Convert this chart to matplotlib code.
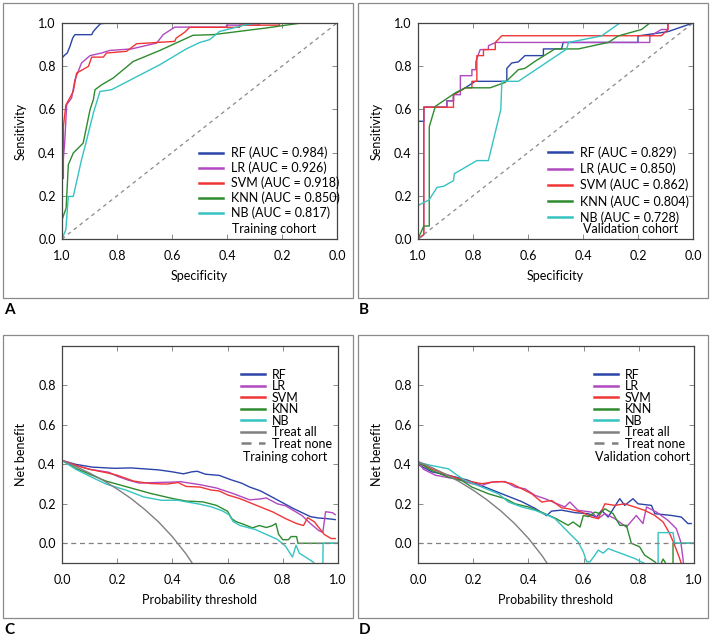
import matplotlib.pyplot as plt
from matplotlib.patches import Rectangle

plt.rcParams["font.family"] = ["Lato", "DejaVu Sans"]
plt.rcParams["font.size"] = 9.0

models = ["RF", "LR", "SVM", "KNN", "NB"]
colors = ["#2b44a8", "#b048c0", "#f03535", "#2e8b2e", "#35c3c3"]

# ---- ROC, training cohort (x = specificity) ----
auc_a = [0.984, 0.926, 0.918, 0.850, 0.817]
rf_spec_a = [1.0, 1.0, 1.0, 0.989, 0.981, 0.971, 0.961, 0.953, 0.935, 0.892, 0.886, 0.872, 0.860, 0.826, 0.0]
rf_sens_a = [0.0, 0.56, 0.838, 0.853, 0.861, 0.892, 0.931, 0.946, 0.946, 0.946, 0.961, 0.981, 0.997, 1.0, 1.0]
lr_spec_a = [1.0, 1.0, 0.99, 0.983, 0.965, 0.953, 0.941, 0.929, 0.898, 0.856, 0.826, 0.747, 0.656, 0.632, 0.59, 0.402, 0.402, 0.282, 0.282, 0.0]
lr_sens_a = [0.0, 0.30, 0.45, 0.622, 0.653, 0.737, 0.776, 0.815, 0.849, 0.861, 0.873, 0.88, 0.907, 0.946, 0.981, 0.981, 0.99, 0.99, 1.0, 1.0]
svm_spec_a = [1.0, 1.0, 0.995, 0.995, 0.986, 0.959, 0.947, 0.904, 0.892, 0.850, 0.838, 0.765, 0.729, 0.59, 0.585, 0.554, 0.536, 0.354, 0.354, 0.209, 0.209, 0.0]
svm_sens_a = [0.0, 0.28, 0.28, 0.52, 0.62, 0.683, 0.768, 0.799, 0.842, 0.842, 0.861, 0.869, 0.904, 0.915, 0.93, 0.957, 0.98, 0.98, 0.99, 0.99, 1.0, 1.0]
knn_spec_a = [1.0, 1.0, 0.985, 0.977, 0.959, 0.923, 0.898, 0.886, 0.880, 0.856, 0.814, 0.741, 0.644, 0.524, 0.451, 0.257, 0.13, 0.0]
knn_sens_a = [0.0, 0.089, 0.143, 0.344, 0.398, 0.444, 0.599, 0.645, 0.691, 0.714, 0.745, 0.822, 0.873, 0.943, 0.946, 0.977, 1.0, 1.0]
nb_spec_a = [1.0, 0.986, 0.977, 0.959, 0.929, 0.910, 0.886, 0.862, 0.820, 0.644, 0.548, 0.499, 0.463, 0.427, 0.33, 0.294, 0.0]
nb_sens_a = [0.0, 0.043, 0.197, 0.197, 0.367, 0.46, 0.583, 0.683, 0.691, 0.807, 0.88, 0.91, 0.923, 0.961, 0.992, 1.0, 1.0]

# ---- ROC, validation cohort ----
auc_b = [0.829, 0.850, 0.862, 0.804, 0.728]
rf_spec_b = [1.0, 1.0, 0.979, 0.979, 0.895, 0.895, 0.871, 0.871, 0.828, 0.792, 0.677, 0.677, 0.659, 0.635, 0.611, 0.544, 0.544, 0.478, 0.472, 0.2, 0.2, 0.091, 0.0]
rf_sens_b = [0.0, 0.545, 0.545, 0.61, 0.61, 0.64, 0.64, 0.668, 0.70, 0.73, 0.73, 0.79, 0.815, 0.82, 0.849, 0.849, 0.88, 0.88, 0.91, 0.91, 0.94, 0.96, 1.0]
lr_spec_b = [1.0, 0.979, 0.979, 0.895, 0.895, 0.871, 0.871, 0.846, 0.846, 0.804, 0.804, 0.790, 0.790, 0.774, 0.744, 0.744, 0.717, 0.157, 0.157, 0.115, 0.091, 0.091, 0.0]
lr_sens_b = [0.0, 0.02, 0.61, 0.61, 0.64, 0.64, 0.668, 0.668, 0.756, 0.756, 0.784, 0.784, 0.82, 0.877, 0.877, 0.895, 0.91, 0.91, 0.938, 0.97, 0.97, 1.0, 1.0]
svm_spec_b = [1.0, 0.979, 0.979, 0.871, 0.871, 0.828, 0.804, 0.804, 0.786, 0.786, 0.762, 0.762, 0.719, 0.719, 0.695, 0.115, 0.091, 0.091, 0.0]
svm_sens_b = [0.0, 0.02, 0.61, 0.61, 0.668, 0.70, 0.70, 0.73, 0.73, 0.849, 0.849, 0.877, 0.877, 0.91, 0.941, 0.941, 0.97, 1.0, 1.0]
knn_spec_b = [1.0, 0.979, 0.959, 0.959, 0.937, 0.901, 0.865, 0.828, 0.738, 0.683, 0.635, 0.611, 0.574, 0.502, 0.417, 0.308, 0.272, 0.187, 0.157, 0.0]
knn_sens_b = [0.0, 0.06, 0.06, 0.52, 0.614, 0.645, 0.676, 0.70, 0.70, 0.725, 0.784, 0.79, 0.823, 0.88, 0.88, 0.91, 0.94, 0.97, 1.0, 1.0]
nb_spec_b = [1.0, 1.0, 0.959, 0.931, 0.907, 0.871, 0.868, 0.786, 0.744, 0.699, 0.695, 0.635, 0.459, 0.453, 0.333, 0.266, 0.0]
nb_sens_b = [0.0, 0.155, 0.182, 0.239, 0.244, 0.27, 0.302, 0.363, 0.363, 0.599, 0.73, 0.73, 0.88, 0.91, 0.94, 1.0, 1.0]

# ---- decision curves, training cohort ----
rf_pt_c = [0, 0.05, 0.11, 0.19, 0.25, 0.30, 0.35, 0.40, 0.44, 0.47, 0.49, 0.52, 0.57, 0.61, 0.65, 0.68, 0.72, 0.76, 0.80, 0.84, 0.87, 0.90, 0.93, 0.96, 0.99]
rf_nb_c = [0.42, 0.40, 0.386, 0.38, 0.382, 0.377, 0.372, 0.362, 0.352, 0.362, 0.365, 0.350, 0.344, 0.323, 0.305, 0.285, 0.265, 0.235, 0.205, 0.175, 0.155, 0.135, 0.128, 0.125, 0.12]
lr_pt_c = [0, 0.05, 0.10, 0.17, 0.20, 0.24, 0.28, 0.34, 0.40, 0.43, 0.50, 0.56, 0.62, 0.68, 0.72, 0.74, 0.78, 0.81, 0.84, 0.87, 0.90, 0.93, 0.945, 0.955, 0.98, 0.99]
lr_nb_c = [0.42, 0.395, 0.375, 0.36, 0.34, 0.32, 0.305, 0.308, 0.31, 0.312, 0.297, 0.28, 0.252, 0.22, 0.225, 0.23, 0.20, 0.19, 0.165, 0.14, 0.10, 0.065, 0.055, 0.16, 0.155, 0.145]
svm_pt_c = [0, 0.05, 0.10, 0.16, 0.20, 0.26, 0.32, 0.38, 0.42, 0.45, 0.50, 0.54, 0.57, 0.60, 0.645, 0.70, 0.765, 0.81, 0.85, 0.875, 0.89, 0.915, 0.95, 0.975, 0.99]
svm_nb_c = [0.42, 0.395, 0.375, 0.358, 0.345, 0.315, 0.303, 0.30, 0.308, 0.288, 0.285, 0.27, 0.265, 0.245, 0.226, 0.195, 0.158, 0.125, 0.10, 0.09, 0.13, 0.108, 0.045, 0.024, 0.024]
knn_pt_c = [0, 0.05, 0.10, 0.16, 0.235, 0.32, 0.40, 0.45, 0.51, 0.56, 0.60, 0.615, 0.63, 0.66, 0.69, 0.715, 0.74, 0.76, 0.775, 0.785, 0.80, 0.82, 0.83, 0.85, 0.855, 1.0]
knn_nb_c = [0.42, 0.38, 0.35, 0.315, 0.286, 0.253, 0.227, 0.214, 0.21, 0.192, 0.162, 0.125, 0.11, 0.095, 0.078, 0.09, 0.08, 0.088, 0.10, 0.045, 0.018, 0.018, 0.034, 0.034, 0.0, 0.0]
nb_pt_c = [0, 0.05, 0.10, 0.16, 0.235, 0.295, 0.36, 0.42, 0.45, 0.50, 0.54, 0.58, 0.605, 0.62, 0.645, 0.70, 0.74, 0.78, 0.81, 0.835, 0.848, 0.86, 0.91, 0.93, 0.945, 0.946, 1.0]
nb_nb_c = [0.42, 0.375, 0.34, 0.30, 0.268, 0.235, 0.218, 0.218, 0.21, 0.198, 0.185, 0.165, 0.145, 0.11, 0.09, 0.07, 0.045, 0.02, -0.015, -0.07, -0.01, -0.05, -0.095, -0.13, -0.13, 0.0, 0.0]
all_pt = [0, 0.05, 0.1, 0.15, 0.2, 0.25, 0.3, 0.35, 0.4, 0.45, 0.5]
all_nb_c = [0.42, 0.389, 0.356, 0.318, 0.275, 0.227, 0.171, 0.108, 0.033, -0.055, -0.16]

# ---- decision curves, validation cohort ----
rf_pt_d = [0, 0.05, 0.11, 0.18, 0.255, 0.316, 0.376, 0.424, 0.466, 0.484, 0.52, 0.57, 0.617, 0.647, 0.665, 0.689, 0.719, 0.731, 0.749, 0.779, 0.797, 0.846, 0.858, 0.918, 0.954, 0.978, 0.99]
rf_nb_d = [0.40, 0.362, 0.345, 0.32, 0.278, 0.244, 0.211, 0.177, 0.14, 0.163, 0.168, 0.155, 0.15, 0.133, 0.167, 0.133, 0.2, 0.226, 0.192, 0.226, 0.2, 0.192, 0.15, 0.141, 0.133, 0.1, 0.1]
lr_pt_d = [0, 0.02, 0.063, 0.147, 0.195, 0.23, 0.267, 0.316, 0.352, 0.388, 0.424, 0.46, 0.496, 0.532, 0.55, 0.58, 0.629, 0.653, 0.677, 0.713, 0.755, 0.791, 0.815, 0.828, 0.864, 0.906, 0.936, 0.952, 0.96, 0.965]
lr_nb_d = [0.41, 0.375, 0.345, 0.323, 0.302, 0.293, 0.31, 0.313, 0.285, 0.276, 0.243, 0.226, 0.205, 0.184, 0.209, 0.167, 0.158, 0.125, 0.15, 0.125, 0.082, 0.141, 0.1, 0.184, 0.158, 0.116, 0.074, 0.007, -0.076, -0.15]
svm_pt_d = [0, 0.05, 0.111, 0.171, 0.231, 0.27, 0.304, 0.34, 0.376, 0.412, 0.448, 0.484, 0.52, 0.544, 0.593, 0.629, 0.653, 0.677, 0.713, 0.749, 0.785, 0.821, 0.858, 0.888, 0.912, 0.93, 0.948, 0.96]
svm_nb_d = [0.41, 0.377, 0.344, 0.318, 0.302, 0.31, 0.313, 0.302, 0.276, 0.251, 0.209, 0.217, 0.18, 0.175, 0.158, 0.133, 0.125, 0.2, 0.192, 0.2, 0.184, 0.167, 0.141, 0.108, 0.049, -0.01, -0.077, -0.13]
knn_pt_d = [0, 0.05, 0.111, 0.159, 0.195, 0.255, 0.316, 0.352, 0.40, 0.46, 0.496, 0.544, 0.562, 0.587, 0.599, 0.617, 0.641, 0.659, 0.677, 0.707, 0.731, 0.755, 0.773, 0.803, 0.821, 0.858, 0.875, 0.888, 0.91, 0.924, 0.924, 1.0]
knn_nb_d = [0.41, 0.369, 0.335, 0.318, 0.285, 0.251, 0.226, 0.2, 0.184, 0.15, 0.128, 0.091, 0.108, 0.082, 0.141, 0.135, 0.158, 0.15, 0.175, 0.15, 0.091, 0.091, 0.0, -0.018, -0.06, -0.094, -0.12, -0.08, -0.13, -0.13, 0.0, 0.0]
nb_pt_d = [0, 0.05, 0.111, 0.135, 0.171, 0.231, 0.291, 0.328, 0.376, 0.424, 0.472, 0.496, 0.532, 0.556, 0.58, 0.599, 0.611, 0.623, 0.641, 0.653, 0.671, 0.689, 0.737, 0.785, 0.833, 0.85, 0.87, 0.87, 0.924, 0.93, 1.0]
nb_nb_d = [0.41, 0.394, 0.377, 0.352, 0.318, 0.285, 0.251, 0.209, 0.184, 0.167, 0.141, 0.125, 0.074, 0.04, 0.007, -0.044, -0.094, -0.094, -0.06, -0.035, -0.05, -0.027, -0.052, -0.077, -0.111, -0.13, -0.13, 0.054, 0.054, 0.0, 0.0]
all_nb_d = [0.415, 0.384, 0.35, 0.312, 0.269, 0.22, 0.164, 0.10, 0.025, -0.064, -0.17]


def style_axes(ax):
    ax.tick_params(direction="in", top=True, right=True, length=3.5, width=0.6,
                   color="#777777", labelsize=9.0)
    ax.tick_params(axis="x", pad=8)
    ax.tick_params(axis="y", pad=4.5)
    for sp in ax.spines.values():
        sp.set_color("#444444")
        sp.set_linewidth(0.9)


def roc_panel(ax, xs, ys, aucs, cohort, anchor, spacing, text_x):
    for x, y, name, c, a in zip(xs, ys, models, colors, aucs):
        ax.plot(x, y, color=c, lw=1.0, label="%s (AUC = %.3f)" % (name, a))
    ax.plot([1, 0], [0, 1], color="#888888", lw=0.9, ls=(0, (3, 3)))
    ax.set_xlim(1, 0)
    ax.set_ylim(0, 1)
    ax.set_xticks([1.0, 0.8, 0.6, 0.4, 0.2, 0.0])
    ax.set_yticks([0.0, 0.2, 0.4, 0.6, 0.8, 1.0])
    ax.set_xlabel("Specificity", labelpad=6)
    ax.set_ylabel("Sensitivity", labelpad=8)
    leg = ax.legend(loc="upper left", bbox_to_anchor=anchor, frameon=False,
                    borderpad=0, borderaxespad=0, handlelength=1.9,
                    handletextpad=0.7, labelspacing=spacing)
    for h in leg.get_lines():
        h.set_linewidth(1.8)
    ax.text(text_x, 0.045, cohort, transform=ax.transAxes, va="center", ha="left")
    style_axes(ax)


def dca_panel(ax, xs, ys, all_nb, cohort, anchor, text_x):
    for x, y, name, c in zip(xs, ys, models, colors):
        ax.plot(x, y, color=c, lw=1.0, label=name)
    ax.plot(all_pt, all_nb, color="#808080", lw=1.0, label="Treat all")
    ax.plot([0, 1], [0, 0], color="#808080", lw=0.9, ls=(0, (4, 3)), label="Treat none")
    ax.set_xlim(0, 1)
    ax.set_ylim(-0.1, 1.0)
    ax.set_xticks([0.0, 0.2, 0.4, 0.6, 0.8, 1.0])
    ax.set_yticks([0.0, 0.2, 0.4, 0.6, 0.8])
    ax.set_xlabel("Probability threshold", labelpad=6)
    ax.set_ylabel("Net benefit", labelpad=8)
    leg = ax.legend(loc="upper left", bbox_to_anchor=anchor, frameon=False,
                    borderpad=0, borderaxespad=0, handlelength=1.9,
                    handletextpad=0.55, labelspacing=-0.04)
    for h in leg.get_lines():
        h.set_linewidth(1.8)
    ax.text(text_x, 0.487, cohort, transform=ax.transAxes, va="center", ha="left")
    style_axes(ax)


fig = plt.figure(figsize=(7.13, 6.37), dpi=100)
W, H = 713.0, 637.0

# grey frames round each panel and the panel letters
for (x0, y0, x1, y1), letter in zip([(3, 3, 353, 298), (358, 3, 708, 298),
                                     (3, 335, 353, 618), (358, 335, 708, 618)],
                                    ["A", "B", "C", "D"]):
    fig.add_artist(Rectangle((x0 / W, 1 - y1 / H), (x1 - x0) / W, (y1 - y0) / H,
                             transform=fig.transFigure, fill=False,
                             edgecolor="#8a8a8a", lw=0.9))
    fig.text((x0 + 1) / W, 1 - (y1 + 12) / H, letter, fontsize=11,
             fontweight="bold", ha="left", va="center")

ax_a = fig.add_axes([62 / W, 1 - 239 / H, 275 / W, 216 / H])
ax_b = fig.add_axes([418 / W, 1 - 239 / H, 275 / W, 216 / H])
ax_c = fig.add_axes([62 / W, 1 - 563 / H, 276 / W, 217 / H])
ax_d = fig.add_axes([418 / W, 1 - 563 / H, 276 / W, 217 / H])

roc_panel(ax_a, [rf_spec_a, lr_spec_a, svm_spec_a, knn_spec_a, nb_spec_a],
          [rf_sens_a, lr_sens_a, svm_sens_a, knn_sens_a, nb_sens_a],
          auc_a, "Training cohort", (0.498, 0.428), 0.2, 0.619)
roc_panel(ax_b, [rf_spec_b, lr_spec_b, svm_spec_b, knn_spec_b, nb_spec_b],
          [rf_sens_b, lr_sens_b, svm_sens_b, knn_sens_b, nb_sens_b],
          auc_b, "Validation cohort", (0.472, 0.43), 0.3, 0.60)
dca_panel(ax_c, [rf_pt_c, lr_pt_c, svm_pt_c, knn_pt_c, nb_pt_c],
          [rf_nb_c, lr_nb_c, svm_nb_c, knn_nb_c, nb_nb_c],
          all_nb_c, "Training cohort", (0.649, 0.895), 0.657)
dca_panel(ax_d, [rf_pt_d, lr_pt_d, svm_pt_d, knn_pt_d, nb_pt_d],
          [rf_nb_d, lr_nb_d, svm_nb_d, knn_nb_d, nb_nb_d],
          all_nb_d, "Validation cohort", (0.639, 0.895), 0.643)

fig.savefig("out.png", dpi=100)
